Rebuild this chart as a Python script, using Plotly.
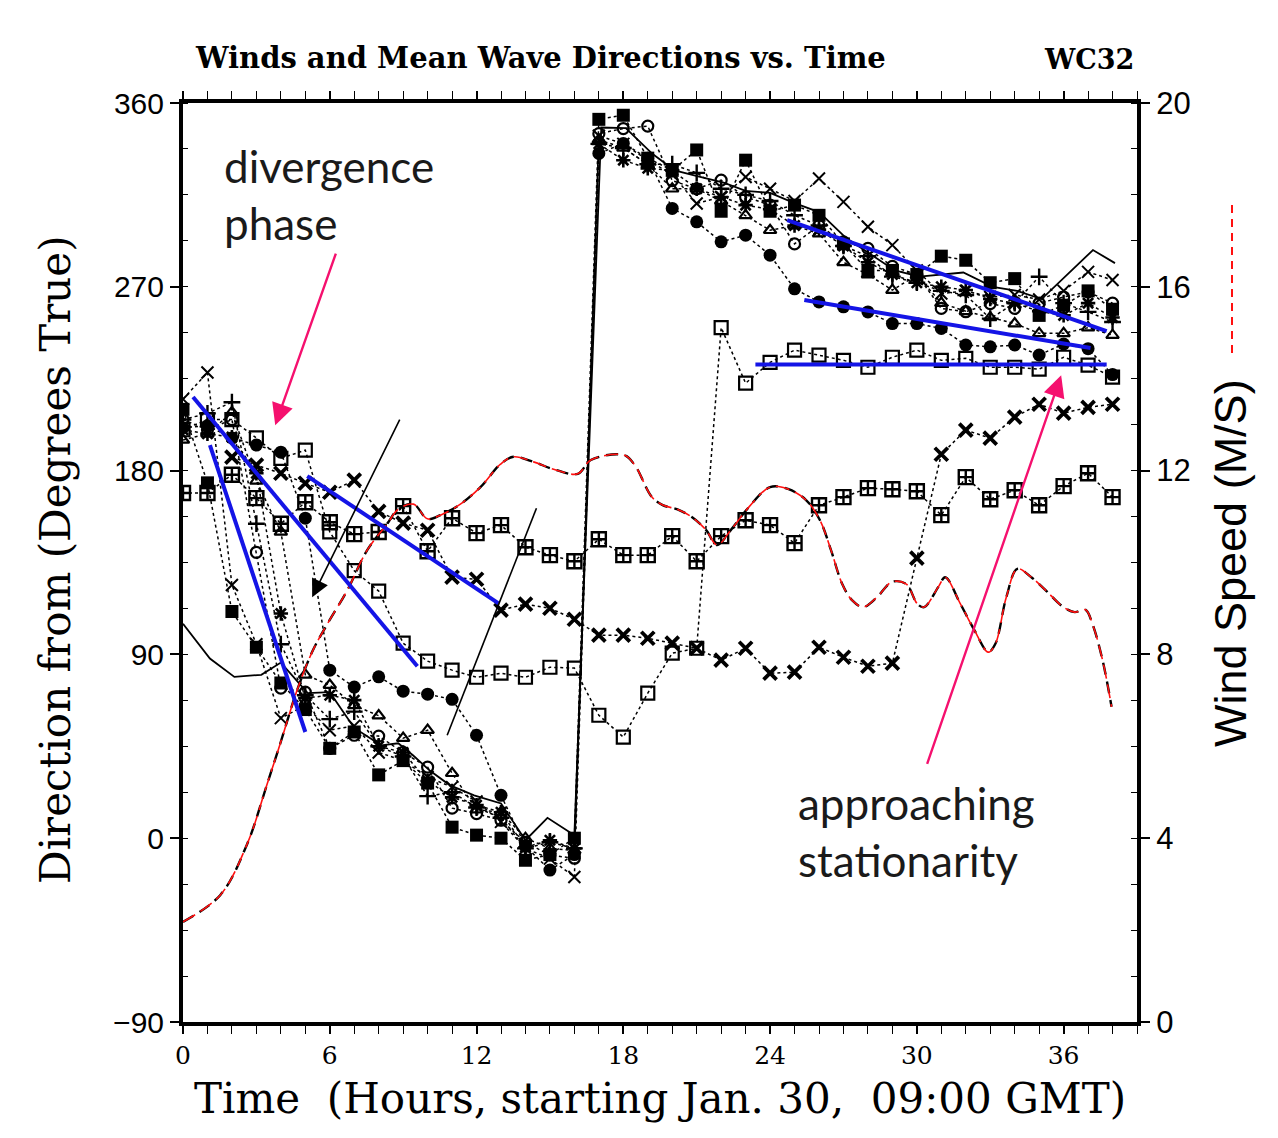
import plotly.graph_objects as go

# ---------------- data ----------------
HOURS = list(range(39))

# Wind direction (solid line)
WIND_DIR_T = [0, 1.1, 2.1, 3.2, 4.0, 5.1, 6.0, 7.0, 8.1, 8.8, 9.4, 10.1, 10.9, 11.9, 13.0, 14.0,
              14.9, 16.0, 17.1, 18.1, 19.2, 20.1, 21.1, 22.1, 23.0, 24.0, 25.0, 26.0, 27.1, 28.1,
              29.1, 30.1, 31.9, 33.1, 34.1, 35.1, 37.2, 38.1]
WIND_DIR = [105, 88, 79, 80, 86, 71, 71.5, 54, 45.5, 46.5, 40.6, 33, 26, 21, 17, -1,
            10, 1.5, 348, 347.7, 335, 327, 324, 321, 317, 316, 311, 306.6, 294, 286,
            278, 275, 277, 270, 268, 264, 288, 281.6]

# Wind speed (dashed line, right axis, m/s)
WIND_SPD_T = [0, 1.52, 2.62, 3.44, 3.97, 4.67, 5.32, 5.90, 6.72, 7.53, 8.35, 8.76, 9.42, 9.99,
              10.52, 11.34, 12.16, 12.98, 13.51, 14.33, 15.15, 16.14, 16.67, 18.02, 18.47, 19.16,
              19.61, 20.19, 20.80, 21.38, 21.83, 22.40, 23.14, 24.00, 24.73, 25.47, 26.04, 26.49,
              26.95, 27.35, 27.80, 28.38, 28.99, 29.57, 30.02, 30.30, 30.88, 31.16, 31.78, 32.35,
              32.92, 33.21, 33.66, 34.11, 34.68, 35.26, 35.99, 36.45, 36.90, 37.18, 37.59, 37.96]
WIND_SPD = [2.18, 2.76, 3.87, 5.18, 6.05, 7.23, 8.10, 8.66, 9.40, 10.27, 10.84, 11.14, 11.27, 10.95,
            11.03, 11.27, 11.64, 12.14, 12.30, 12.19, 12.03, 11.93, 12.23, 12.34, 12.12, 11.43,
            11.25, 11.16, 10.99, 10.71, 10.38, 10.71, 11.21, 11.64, 11.60, 11.36, 10.92, 10.27,
            9.53, 9.18, 9.03, 9.25, 9.58, 9.53, 9.10, 9.03, 9.47, 9.68, 9.10, 8.53,
            8.05, 8.23, 9.25, 9.86, 9.68, 9.40, 9.03, 8.92, 8.97, 8.66, 7.88, 6.86]

# Mean wave directions (degrees true), one value per hour 0..38
DIR_SQ_FILLED = [210, 174, 111, 93.5, 76, 63, 44, 52, 31, 38, 27, 5.4, 1.5, 0, -10.8, -8, 0,
                 352, 354, 333, 327, 337, 307, 332, 307, 310, 305, 291, 278, 278, 276, 285, 283,
                 272, 274, 256, 261, 268, 259]
DIR_CIRCLE_OPEN = [205, 200, 205, 140, 73.5, 71.5, 44, 50.4, 50, 42, 34.8, 14.7, 12, 8.8, -2,
                   -8.3, -9.8, 345, 347.5, 348.7, 322, 318, 322.2, 314, 310, 291, 300, 292, 288.8,
                   280, 276, 259.4, 257.8, 261.8, 259.4, 262, 265, 267.5, 262]
DIR_CIRCLE_FILLED = [201, 202, 196, 192.5, 189, 156.7, 82.3, 74, 79, 72, 70.5, 68, 50.4, 21, -4,
                     -15.6, -8, 335.3, 340.2, 333, 308.4, 301.8, 292, 295.3, 285.5, 269, 262.6,
                     260.2, 257.7, 252, 252, 249.6, 241.5, 240.6, 241.5, 236.6, 242, 239.7, 227]
DIR_TRIANGLE = [195, 198, 208.6, 175, 150, 80, 75, 65, 60, 49, 52.9, 31.8, 14, 12.7, 0, -5, -6,
                342, 338, 330, 318, 318, 312, 305, 297.7, 300, 296, 282, 276, 268.4, 275.7, 262,
                258, 255, 252, 247.2, 247.2, 250, 246.3]
DIR_PLUS = [205, 208, 213.5, 154, 95, 70, 58.3, 62, 45, 40, 20.6, 22.5, 15, 10, -5, -2, -5,
            340, 338, 330, 330, 325.8, 318, 315, 312, 305, 300, 290, 285, 275, 272, 268, 266,
            254.4, 262, 274.9, 262, 257.7, 252.8]
DIR_X_THIN = [215, 228, 124, 95, 58.8, 65, 52.9, 55, 42, 38, 30, 25, 18, 8, -5, -10, -19,
              344, 340, 332, 325, 310.8, 314, 323.8, 318, 312, 323, 311.6, 299.4, 290.4, 278,
              266.7, 268, 265, 266, 263.8, 268, 277.3, 273.3]
DIR_ASTERISK = [200, 198, 196.4, 178.7, 110, 68.6, 70, 67.6, 45, 42, 28, 20, 16.2, 12.7, -4.4,
                -1, -5, 340, 332, 328, 327, 318, 314, 310, 308, 300, 298, 290, 282, 276, 272,
                270, 268.4, 264, 262, 258, 256, 262, 255]
DIR_SQ_OPEN = [200, 205, 205, 196, 186, 190, 150, 131, 121, 95.5, 86.7, 82.3, 78.8, 80.8, 78.8,
               83.7, 83.3, 60.2, 49.5, 71, 90.6, 93, 250, 222.8, 233, 239, 236.5, 234, 230.6,
               235.5, 239, 234, 235, 230.6, 230.6, 229.7, 235.5, 231.6, 225.8]
DIR_SQ_CROSS = [169, 169, 178, 166.5, 154, 164.5, 154.7, 148.9, 149.9, 162.6, 140.5, 156.7, 149.4,
                153.3, 142.5, 138.6, 135.6, 146.4, 138.6, 138.6, 147.9, 135.6, 147.9, 155.7, 153.3,
                144.5, 163, 167, 171.4, 170.9, 169.9, 158.2, 176.8, 166, 170.4, 163, 172.4, 178.7,
                167]
DIR_X_BOLD = [None, None, 186.6, 182.7, 178.7, 173.8, 169.4, 175.3, 160, 154.3, 150.8, 127.8,
              126.8, 111.7, 114.6, 112.6, 107.2, 99.4, 99.4, 97.9, 95.5, 93, 87.2, 93, 80.8, 81.3,
              93.5, 88.6, 84.2, 85.7, 137.1, 188, 199.8, 195.9, 206.2, 212.5, 208.1, 211, 212.5]

X_TICKS = [0, 6, 12, 18, 24, 30, 36]
Y_TICKS = [-90, 0, 90, 180, 270, 360]
Y2_TICKS = [0, 4, 8, 12, 16, 20]

# annotation segments (hour, degrees)
BLUE_SEGMENTS = [((0.41, 216), (9.58, 84.2)), ((1.1, 192.5), (5.0, 52)),
                 ((5.08, 177.3), (12.9, 115)), ((24.7, 302.6), (37.76, 248.3)),
                 ((25.4, 263.5), (37.1, 240)), ((23.4, 232), (37.76, 232))]

# ---------------- figure ----------------
# page has an 8px body margin, so the figure is sized/offset to land on the target pixels
OFF = 8
W, H = 1278 - 2 * OFF, 1138 - 2 * OFF
L, R, T, B = 183, 1137, 103, 1022          # plot area in page pixels


def px(x):
    return (x - L) / (R - L)


def py(y):
    return (B - y) / (B - T)


fig = go.Figure()

# wind speed: black dashed + red dashed overlay
fig.add_trace(go.Scatter(x=WIND_SPD_T, y=WIND_SPD, yaxis="y2", mode="lines",
                         line=dict(color="black", width=2.4, dash="12px,7px", shape="spline"),
                         hoverinfo="skip", showlegend=False))
fig.add_trace(go.Scatter(x=WIND_SPD_T, y=WIND_SPD, yaxis="y2", mode="lines",
                         line=dict(color="#ff1010", width=1.6, dash="14px,6px", shape="spline"),
                         hoverinfo="skip", showlegend=False))

# wind direction
fig.add_trace(go.Scatter(x=WIND_DIR_T, y=WIND_DIR, mode="lines",
                         line=dict(color="black", width=1.8), showlegend=False))

series = [
    (DIR_SQ_CROSS, "square-cross-open", 14, 2.4),
    (DIR_SQ_OPEN, "square-open", 13, 2.2),
    (DIR_X_BOLD, "x-thin-open", 13, 3.8),
    (DIR_X_THIN, "x-thin-open", 12, 2.0),
    (DIR_PLUS, "cross-thin-open", 12, 2.4),
    (DIR_ASTERISK, "asterisk-open", 12, 2.6),
    (DIR_TRIANGLE, "triangle-up-open", 11, 2.2),
    (DIR_CIRCLE_OPEN, "circle-open", 11, 2.2),
    (DIR_CIRCLE_FILLED, "circle", 13, 0),
    (DIR_SQ_FILLED, "square", 13, 0),
]
for vals, sym, size, lw in series:
    fig.add_trace(go.Scatter(
        x=HOURS, y=vals, mode="lines+markers", connectgaps=False,
        line=dict(color="black", width=1.5, dash="dot"),
        marker=dict(symbol=sym, size=size, color="black",
                    line=dict(color="black", width=lw)),
        showlegend=False))

shapes = []
for (x0, y0), (x1, y1) in BLUE_SEGMENTS:
    shapes.append(dict(type="line", xref="x", yref="y", x0=x0, y0=y0, x1=x1, y1=y1,
                       line=dict(color="#1414e6", width=4)))
# thin black line (no head)
shapes.append(dict(type="line", xref="x", yref="y", x0=14.45, y0=161.6, x1=10.8, y1=50.4,
                   line=dict(color="black", width=1.6)))
# red dashed legend stub on the right
shapes.append(dict(type="line", xref="paper", yref="paper", x0=px(1232), x1=px(1232),
                   y0=py(205), y1=py(355), line=dict(color="#ff1010", width=2, dash="8px,6px")))

annotations = [
    dict(text="Winds and Mean Wave Directions vs. Time", xref="paper", yref="paper",
         x=px(540), y=py(58), xanchor="center", yanchor="middle", showarrow=False,
         font=dict(family="DejaVu Serif", size=29, color="black", weight="bold")),
    dict(text="WC32", xref="paper", yref="paper", x=px(1089), y=py(60),
         xanchor="center", yanchor="middle", showarrow=False,
         font=dict(family="DejaVu Serif", size=27, color="black", weight="bold")),
    dict(text="Direction from (Degrees True)", xref="paper", yref="paper", x=px(55), y=py(560),
         xanchor="center", yanchor="middle", textangle=-90, showarrow=False,
         font=dict(family="DejaVu Serif", size=42, color="black")),
    dict(text="Time  (Hours, starting Jan. 30,  09:00 GMT)", xref="paper", yref="paper",
         x=px(660), y=py(1098), xanchor="center", yanchor="middle", showarrow=False,
         font=dict(family="DejaVu Serif", size=42, color="black")),
    dict(text="Wind Speed (M/S)", xref="paper", yref="paper", x=px(1230), y=py(563),
         xanchor="center", yanchor="middle", textangle=-90, showarrow=False,
         font=dict(family="Liberation Sans", size=45, color="black")),
    dict(text="divergence<br>phase", xref="paper", yref="paper", x=px(222), y=py(138),
         xanchor="left", yanchor="top", align="left", showarrow=False,
         font=dict(family="Lato", size=44, color="#1a1a1a")),
    dict(text="approaching<br>stationarity", xref="paper", yref="paper", x=px(796), y=py(775),
         xanchor="left", yanchor="top", align="left", showarrow=False,
         font=dict(family="Lato", size=44, color="#1a1a1a")),
    # arrows
    dict(x=5.28, y=118, ax=8.89, ay=205.7, xref="x", yref="y", axref="x", ayref="y",
         text="", showarrow=True, arrowhead=2, arrowsize=2.2, arrowwidth=1.6,
         arrowcolor="black"),
    dict(x=3.77, y=202.2, ax=6.27, ay=287, xref="x", yref="y", axref="x", ayref="y",
         text="", showarrow=True, arrowhead=2, arrowsize=1.8, arrowwidth=2.4,
         arrowcolor="#f5106e"),
    dict(x=35.9, y=226.7, ax=30.4, ay=35.7, xref="x", yref="y", axref="x", ayref="y",
         text="", showarrow=True, arrowhead=2, arrowsize=1.8, arrowwidth=2.4,
         arrowcolor="#f5106e"),
]

fig.update_layout(
    width=W, height=H,
    margin=dict(l=L - OFF, r=W - (R - OFF), t=T - OFF, b=H - (B - OFF), pad=0),
    paper_bgcolor="white", plot_bgcolor="white",
    showlegend=False,
    shapes=shapes, annotations=annotations,
    xaxis=dict(range=[0, 39], tickvals=X_TICKS, ticks="outside", ticklen=8, tickwidth=1.5,
               tickcolor="black", showline=True, linewidth=4, linecolor="black",
               mirror="allticks", showgrid=False, zeroline=False,
               minor=dict(dtick=1, ticks="outside", ticklen=5, tickwidth=1.2, tickcolor="black"),
               tickfont=dict(family="DejaVu Serif", size=25, color="black")),
    yaxis=dict(range=[-90, 360], tickvals=Y_TICKS, ticks="outside", ticklen=9, tickwidth=1.5,
               tickcolor="black", showline=True, linewidth=4, linecolor="black",
               showgrid=False, zeroline=False,
               minor=dict(dtick=22.5, tick0=0, ticks="inside", ticklen=5, tickwidth=1.2,
                          tickcolor="black"),
               tickfont=dict(family="Liberation Sans", size=30, color="black")),
    yaxis2=dict(range=[0, 20], tickvals=Y2_TICKS, overlaying="y", side="right",
                ticks="outside", ticklen=9, tickwidth=1.5, tickcolor="black",
                showline=True, linewidth=4, linecolor="black", showgrid=False, zeroline=False,
                minor=dict(dtick=1, ticks="inside", ticklen=6, tickwidth=1.2, tickcolor="black"),
                tickfont=dict(family="Liberation Sans", size=31, color="black")),
)

fig.write_html("out.html")
